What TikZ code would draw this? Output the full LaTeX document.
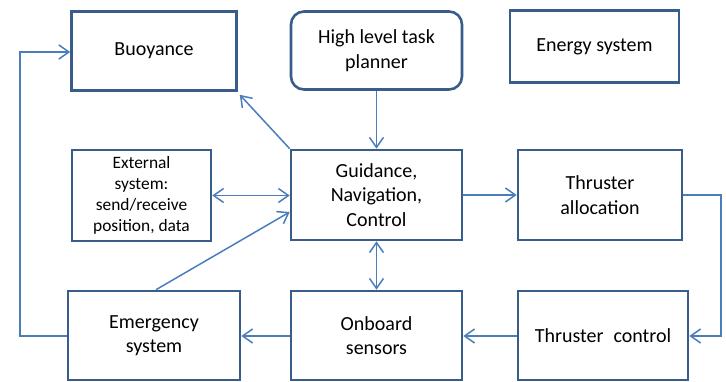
\documentclass[tikz,border=0pt]{standalone}
\usepackage{fontspec}
\setmainfont{Carlito}
\usetikzlibrary{arrows.meta,calc}
\definecolor{boxline}{HTML}{385D8A}
\definecolor{conn}{HTML}{4A7EBB}
\tikzset{
  block/.style={draw=boxline, line width=2.6pt, fill=white, align=center,
    inner sep=0pt, font=\fontsize{20pt}{24.5pt}\selectfont},
  smallblock/.style={block, font=\fontsize{17.4pt}{21pt}\selectfont},
  link/.style={draw=conn, line width=1.5pt,
    -{Straight Barb[length=10pt,width=14pt,line width=1.5pt]}},
  dlink/.style={link, {Straight Barb[length=10pt,width=14pt,line width=1.5pt]}-{Straight Barb[length=10pt,width=14pt,line width=1.5pt]}},
  plainline/.style={draw=conn, line width=1.5pt}
}
\begin{document}
\begin{tikzpicture}[x=1pt,y=-1pt]
\useasboundingbox (0,0) rectangle (726,381);

% boxes
\node[block, minimum width=165pt, minimum height=79pt] (buo) at (154,51) {Buoyance};
\node[block, rounded corners=13pt, minimum width=171pt, minimum height=78pt] (plan) at (376.5,50.5) {High level task\\planner};
\node[block, minimum width=169pt, minimum height=72pt] (energy) at (594.5,46.5) {Energy system};
\node[smallblock, minimum width=139pt, minimum height=91pt] (ext) at (141.5,195.5) {External\\system:\\send/receive\\position, data};
\node[block, minimum width=171pt, minimum height=90pt] (gnc) at (376.5,195) {Guidance,\\Navigation,\\Control};
\node[block, minimum width=164pt, minimum height=90pt] (alloc) at (600,195) {Thruster\\allocation};
\node[block, minimum width=172pt, minimum height=89pt] (emer) at (154,335.5) {Emergency\\system};
\node[block, minimum width=171pt, minimum height=89pt] (onb) at (376.5,335.5) {Onboard\\sensors};
\node[block, minimum width=170pt, minimum height=89pt] (tc) at (603,335.5) {Thruster\enspace control};

% helper points for the outer loops
\coordinate (rtop) at (721,195);
\coordinate (rbot) at (721,336);
\coordinate (ltop) at (20,52);
\coordinate (lbot) at (20,336);

% connectors
\draw[link] (plan.south) -- (gnc.north);
\draw[link] (gnc.north west) -- ($(buo.south east)+(2,3)$);
\draw[dlink] (ext.east) -- (ext.east -| gnc.west);
\draw[link] ($(emer.north)+(2,0)$) -- ($(gnc.west)+(0,17)$);
\draw[link] (gnc.east) -- (gnc.east -| alloc.west);
\draw[dlink] (gnc.south) -- (onb.north);
\draw[link] (alloc.east |- rtop) -- (rtop) -- (rbot) -- (rbot -| tc.east);
\draw[link] (tc.west |- rbot) -- (rbot -| onb.east);
\draw[link] (onb.west |- rbot) -- (rbot -| emer.east);
\draw[link] (emer.west |- lbot) -- (lbot) -- (ltop) -- (ltop -| buo.west);
\end{tikzpicture}
\end{document}
